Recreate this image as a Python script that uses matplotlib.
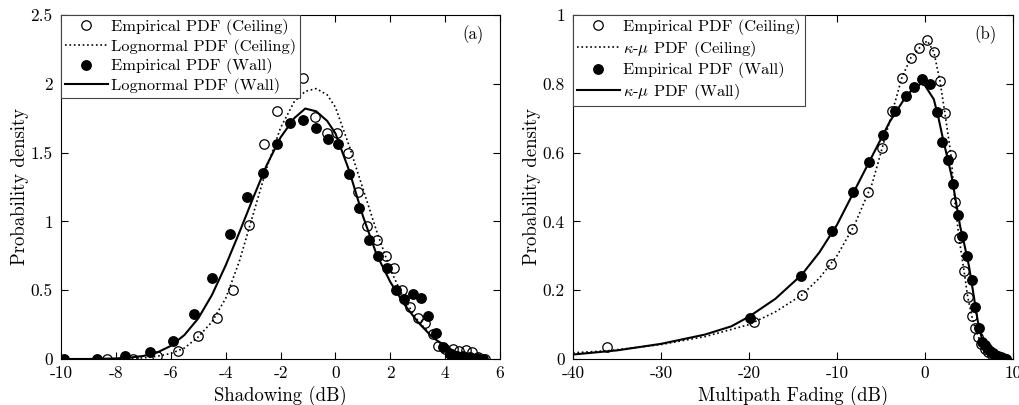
import matplotlib
matplotlib.use("Agg")
import matplotlib.pyplot as plt
from matplotlib.ticker import MultipleLocator, FuncFormatter

plt.rcParams['font.family'] = ['cmr10', 'DejaVu Serif']
plt.rcParams['mathtext.fontset'] = 'cm'
plt.rcParams['axes.unicode_minus'] = False
plt.rcParams['axes.formatter.use_mathtext'] = True

# (a) shadowing, empirical points
sh_ceil_x = [-8.31, -7.37, -6.51, -5.72, -5.0, -4.33, -3.72, -3.14, -2.60, -2.12, -1.17, -0.74,
             -0.32, 0.07, 0.45, 0.81, 1.14, 1.50, 1.83, 2.14, 2.44, 2.72, 3.0, 3.27, 3.55, 3.75,
             3.99, 4.27, 4.52, 4.76, 4.97, 5.21, 5.45]
sh_ceil_y = [0.0, 0.0, 0.02, 0.06, 0.17, 0.30, 0.50, 0.974, 1.56, 1.80, 2.04, 1.757,
             1.64, 1.645, 1.50, 1.21, 0.97, 0.865, 0.75, 0.66, 0.50, 0.375, 0.30, 0.26, 0.18, 0.097,
             0.07, 0.073, 0.058, 0.065, 0.048, 0.017, 0.0]
sh_wall_x = [-9.9, -8.7, -7.67, -6.75, -5.93, -5.16, -4.49, -3.84, -3.23, -2.65, -2.14, -1.64,
             -1.17, -0.72, -0.28, 0.11, 0.50, 0.86, 1.22, 1.56, 1.89, 2.21, 2.51, 2.84, 3.11,
             3.39, 3.65, 3.93, 4.18, 4.42, 4.66, 4.91, 5.15, 5.39]
sh_wall_y = [0.0, 0.0, 0.024, 0.05, 0.13, 0.325, 0.59, 0.91, 1.175, 1.35, 1.56, 1.717,
             1.74, 1.677, 1.60, 1.56, 1.347, 1.10, 0.865, 0.75, 0.664, 0.50, 0.434, 0.47, 0.446,
             0.315, 0.187, 0.09, 0.034, 0.024, 0.024, 0.017, 0.005, 0.0]

# (a) lognormal fits
ln_x = [-10, -9, -8, -7.5, -7, -6.5, -6, -5.5, -5, -4.5, -4, -3.5, -3, -2.5, -2, -1.5, -1.1,
        -0.7, -0.3, 0, 0.5, 1, 1.5, 2, 2.5, 3, 3.5, 4, 4.5, 5, 5.4]
ln_wall_y = [0.0, 0.0, 0.004, 0.01, 0.022, 0.047, 0.095, 0.175, 0.295, 0.465, 0.68, 0.92, 1.17,
             1.41, 1.61, 1.75, 1.82, 1.80, 1.73, 1.64, 1.37, 1.04, 0.76, 0.56, 0.40, 0.27, 0.165,
             0.09, 0.042, 0.016, 0.005]
ln_ceil_y = [0.0, 0.0, 0.001, 0.004, 0.008, 0.02, 0.04, 0.08, 0.16, 0.27, 0.44, 0.71, 1.05,
             1.39, 1.68, 1.87, 1.945, 1.965, 1.92, 1.83, 1.55, 1.24, 0.93, 0.65, 0.44, 0.28, 0.17,
             0.09, 0.045, 0.018, 0.006]

# (b) multipath fading, empirical points
mp_ceil_x = [-36.1, -19.4, -14.0, -10.72, -8.33, -6.44, -4.92, -3.7, -2.58, -1.59, -0.64, 0.26,
             1.02, 1.7, 2.27, 2.95, 3.41, 3.86, 4.43, 4.85, 5.31, 5.68, 6.06, 6.4, 6.8, 7.2,
             7.6, 8.0, 8.4, 8.8, 9.2]
mp_ceil_y = [0.034, 0.107, 0.186, 0.276, 0.378, 0.486, 0.612, 0.721, 0.818, 0.876, 0.905, 0.927,
             0.893, 0.808, 0.714, 0.593, 0.455, 0.353, 0.257, 0.181, 0.126, 0.091, 0.065, 0.045,
             0.03, 0.02, 0.012, 0.007, 0.004, 0.002, 0.0005]
mp_wall_x = [-19.89, -14.13, -10.6, -8.22, -6.33, -4.81, -3.41, -2.2, -1.22, -0.38, 0.57, 1.33,
             1.97, 2.65, 3.22, 3.71, 4.24, 4.77, 5.31, 5.68, 6.14, 6.52, 6.8, 7.1, 7.4, 7.7,
             8.0, 8.3, 8.6, 8.9, 9.2]
mp_wall_y = [0.12, 0.242, 0.372, 0.486, 0.574, 0.651, 0.721, 0.765, 0.79, 0.813, 0.798, 0.717,
             0.63, 0.578, 0.508, 0.419, 0.358, 0.30, 0.23, 0.152, 0.091, 0.05, 0.042, 0.032,
             0.024, 0.017, 0.012, 0.008, 0.005, 0.003, 0.001]

# (b) kappa-mu fits
km_wall_x = [-40, -35, -30, -25, -22, -20, -17, -14, -12, -10, -8, -6, -4, -2, -1, -0.5, 0, 1,
             1.5, 2, 2.5, 3, 3.5, 4, 4.5, 5, 5.5, 6, 6.5, 7, 7.5, 8, 8.5, 9, 9.5]
km_wall_y = [0.013, 0.025, 0.044, 0.071, 0.095, 0.123, 0.175, 0.245, 0.31, 0.39, 0.49, 0.59,
             0.69, 0.77, 0.79, 0.80, 0.795, 0.755, 0.705, 0.645, 0.59, 0.535, 0.46, 0.385,
             0.33, 0.27, 0.19, 0.11, 0.055, 0.03, 0.018, 0.009, 0.004, 0.002, 0.0]
km_ceil_x = [-40, -36, -30, -25, -20, -17, -14, -12, -10, -8, -6, -4.9, -3.7, -2.6, -1.6, -0.6,
             0.26, 1.0, 1.7, 2.27, 2.95, 3.41, 3.86, 4.43, 4.85, 5.31, 5.68, 6.06, 6.4, 6.8,
             7.2, 7.6, 8.0, 8.4, 8.8, 9.2, 9.5]
km_ceil_y = [0.018, 0.024, 0.042, 0.065, 0.10, 0.137, 0.186, 0.235, 0.30, 0.39, 0.51, 0.61,
             0.72, 0.82, 0.876, 0.905, 0.925, 0.893, 0.808, 0.714, 0.593, 0.455, 0.353, 0.257,
             0.181, 0.126, 0.091, 0.065, 0.045, 0.03, 0.02, 0.012, 0.007, 0.004, 0.002,
             0.0005, 0.0]

fig = plt.figure(figsize=(10.19, 4.05), dpi=100)
ax1 = fig.add_axes([0.0599, 0.1136, 0.4308, 0.8494])
ax2 = fig.add_axes([0.5623, 0.1136, 0.4318, 0.8494])

ms = 6.8
fmt = FuncFormatter(lambda v, p: "%g" % v)


def style(ax):
    ax.tick_params(direction="in", top=True, right=True, length=5, labelsize=12.5)
    ax.tick_params(axis="x", pad=5)
    ax.tick_params(axis="y", pad=6)
    ax.xaxis.set_major_formatter(fmt)
    ax.yaxis.set_major_formatter(fmt)
    ax.set_ylabel("Probability density", fontsize=13.5, labelpad=1)


ax1.plot(sh_ceil_x, sh_ceil_y, "o", color="k", mfc="none", ms=ms, mew=0.9,
         label="Empirical PDF (Ceiling)")
ax1.plot(ln_x, ln_ceil_y, ":", color="k", lw=1.2, label="Lognormal PDF (Ceiling)")
ax1.plot(sh_wall_x, sh_wall_y, "o", color="k", ms=ms, label="Empirical PDF (Wall)")
ax1.plot(ln_x, ln_wall_y, "-", color="k", lw=1.5, label="Lognormal PDF (Wall)")
ax1.set_xlim(-10, 6)
ax1.set_ylim(0, 2.5)
ax1.xaxis.set_major_locator(MultipleLocator(2))
ax1.yaxis.set_major_locator(MultipleLocator(0.5))
ax1.set_xlabel("Shadowing (dB)", fontsize=13.5, labelpad=3)
style(ax1)
ax1.text(0.938, 0.93, "(a)", transform=ax1.transAxes, fontsize=12, ha="center")

ax2.plot(mp_ceil_x, mp_ceil_y, "o", color="k", mfc="none", ms=ms, mew=0.9,
         label="Empirical PDF (Ceiling)")
ax2.plot(km_ceil_x, km_ceil_y, ":", color="k", lw=1.2, label=r"$\kappa$-$\mu$ PDF (Ceiling)")
ax2.plot(mp_wall_x, mp_wall_y, "o", color="k", ms=ms, label="Empirical PDF (Wall)")
ax2.plot(km_wall_x, km_wall_y, "-", color="k", lw=1.5, label=r"$\kappa$-$\mu$ PDF (Wall)")
ax2.set_xlim(-40, 10)
ax2.set_ylim(0, 1)
ax2.xaxis.set_major_locator(MultipleLocator(10))
ax2.yaxis.set_major_locator(MultipleLocator(0.2))
ax2.set_xlabel("Multipath Fading (dB)", fontsize=13.5, labelpad=3)
style(ax2)
ax2.text(0.938, 0.93, "(b)", transform=ax2.transAxes, fontsize=12, ha="center")

for ax in (ax1, ax2):
    leg = ax.legend(loc="upper left", fontsize=11.8, handlelength=2.6, handletextpad=0.2,
                    labelspacing=0.22, borderpad=0.25, borderaxespad=0, fancybox=False,
                    framealpha=1, edgecolor="#444444")
    leg.get_frame().set_linewidth(0.8)

fig.savefig("out.png", dpi=100)
